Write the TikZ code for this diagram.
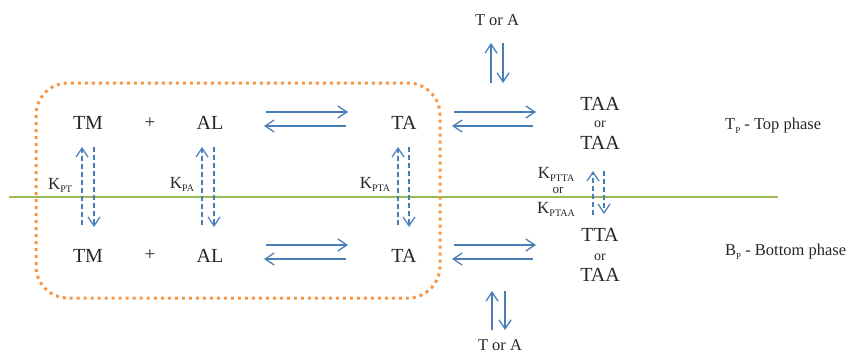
\documentclass[tikz,border=0pt]{standalone}
\usepackage{fontspec}
\setmainfont{Liberation Serif}
\usetikzlibrary{arrows.meta}
\definecolor{ablue}{HTML}{4A7EBB}
\definecolor{aorange}{HTML}{F79646}
\definecolor{agreen}{HTML}{9BBB59}
\definecolor{atext}{HTML}{262626}
\newcommand\kwith[1]{K\raisebox{-0.45ex}{\fontsize{10}{10}\selectfont #1}}
\begin{document}
\begin{tikzpicture}[x=1pt,y=-1pt,
  species/.style={font=\fontsize{20}{22}\selectfont, text=atext, inner sep=0pt},
  plus/.style={font=\fontsize{19}{20}\selectfont, text=atext, inner sep=0pt},
  orlabel/.style={font=\fontsize{14}{15}\selectfont, text=atext, inner sep=0pt},
  korlabel/.style={font=\fontsize{13}{14}\selectfont, text=atext, inner sep=0pt, anchor=base},
  klabel/.style={font=\fontsize{17}{18}\selectfont, text=atext, inner sep=0pt, anchor=base},
  side/.style={font=\fontsize{16.5}{18}\selectfont, text=atext, inner sep=0pt},
  flow/.style={draw=ablue, line width=1.3pt, -{Straight Barb[length=9pt,width=12pt,line width=1.3pt]}},
  partition/.style={draw=ablue, line width=1.2pt, dash pattern=on 5pt off 3pt, -{Straight Barb[length=9pt,width=12pt,line width=1.2pt]}},
  boxline/.style={draw=aorange, line width=3pt, dash pattern=on 3pt off 4pt, rounded corners=32pt},
  interface/.style={draw=agreen, line width=1.3pt}]
\useasboundingbox (0,0) rectangle (850,353);

% interface line
\coordinate (g1) at (9,197);
\coordinate (g2) at (778,197);
\draw[interface] (g1) -- (g2);

% orange dotted box
\coordinate (b1) at (36,83);
\coordinate (b2) at (440,298);
\draw[boxline] (b1) rectangle (b2);

% top row
\node[species] (tm1) at (88,123) {TM};
\node[plus]    (p1)  at (150,123) {+};
\node[species] (al1) at (210,123) {AL};
\node[species] (ta1) at (404,123) {TA};
\node[species] (taa1) at (600,104) {TAA};
\node[orlabel] (or1) at (600,124) {or};
\node[species] (taa2) at (600,143) {TAA};
\node[side] (ttop) at (497,20) {T or A};

% bottom row
\node[species] (tm2) at (88,256) {TM};
\node[plus]    (p2)  at (150,255) {+};
\node[species] (al2) at (210,256) {AL};
\node[species] (ta2) at (404,256) {TA};
\node[species] (tta3) at (600,235) {TTA};
\node[orlabel] (or3) at (600,257) {or};
\node[species] (taa3) at (600,275) {TAA};
\node[side] (tbot) at (500,345) {T or A};

% phase labels
\node[side, anchor=west] (tp) at (725,126) {T\raisebox{-0.5ex}{\fontsize{9}{9}\selectfont P} - Top phase};
\node[side, anchor=west] (bp) at (725,252) {B\raisebox{-0.5ex}{\fontsize{9}{9}\selectfont P} - Bottom phase};

% partition coefficients
\node[klabel] (kpt)  at (60,189)  {\kwith{PT}};
\node[klabel] (kpa)  at (182,188) {\kwith{PA}};
\node[klabel] (kpta) at (375,188) {\kwith{PTA}};
\node[klabel] (kptta) at (556,178) {\kwith{PTTA}};
\node[korlabel] (kor) at (558,193) {or};
\node[klabel] (kptaa) at (556,213) {\kwith{PTAA}};

% horizontal equilibrium arrows
\coordinate (h1a) at (266,112); \coordinate (h1b) at (348,112);
\coordinate (h1c) at (346,126); \coordinate (h1d) at (264,126);
\coordinate (h2a) at (454,112); \coordinate (h2b) at (536,112);
\coordinate (h2c) at (533,126); \coordinate (h2d) at (452,126);
\coordinate (h3a) at (266,245); \coordinate (h3b) at (348,245);
\coordinate (h3c) at (346,259); \coordinate (h3d) at (264,259);
\coordinate (h4a) at (454,245); \coordinate (h4b) at (536,245);
\coordinate (h4c) at (533,259); \coordinate (h4d) at (452,259);
\draw[flow] (h1a) -- (h1b);
\draw[flow] (h1c) -- (h1d);
\draw[flow] (h2a) -- (h2b);
\draw[flow] (h2c) -- (h2d);
\draw[flow] (h3a) -- (h3b);
\draw[flow] (h3c) -- (h3d);
\draw[flow] (h4a) -- (h4b);
\draw[flow] (h4c) -- (h4d);

% vertical exchange with T or A
\coordinate (v1a) at (491,83); \coordinate (v1b) at (491,43);
\coordinate (v1c) at (503,43); \coordinate (v1d) at (503,83);
\coordinate (v2a) at (492,330); \coordinate (v2b) at (492,291);
\coordinate (v2c) at (505,291); \coordinate (v2d) at (505,330);
\draw[flow] (v1a) -- (v1b);
\draw[flow] (v1c) -- (v1d);
\draw[flow] (v2a) -- (v2b);
\draw[flow] (v2c) -- (v2d);

% dashed partition arrows
\foreach \n/\xu/\xd in {pt/82/94, pa/202/214, pta/398/409} {
  \coordinate (\n u1) at (\xu,225); \coordinate (\n u2) at (\xu,147);
  \coordinate (\n d1) at (\xd,147); \coordinate (\n d2) at (\xd,227);
  \draw[partition] (\n u1) -- (\n u2);
  \draw[partition] (\n d1) -- (\n d2);
}
\coordinate (rtu1) at (593,215); \coordinate (rtu2) at (593,171);
\coordinate (rtd1) at (604,171); \coordinate (rtd2) at (604,214);
\draw[partition] (rtu1) -- (rtu2);
\draw[partition] (rtd1) -- (rtd2);
\end{tikzpicture}
\end{document}
